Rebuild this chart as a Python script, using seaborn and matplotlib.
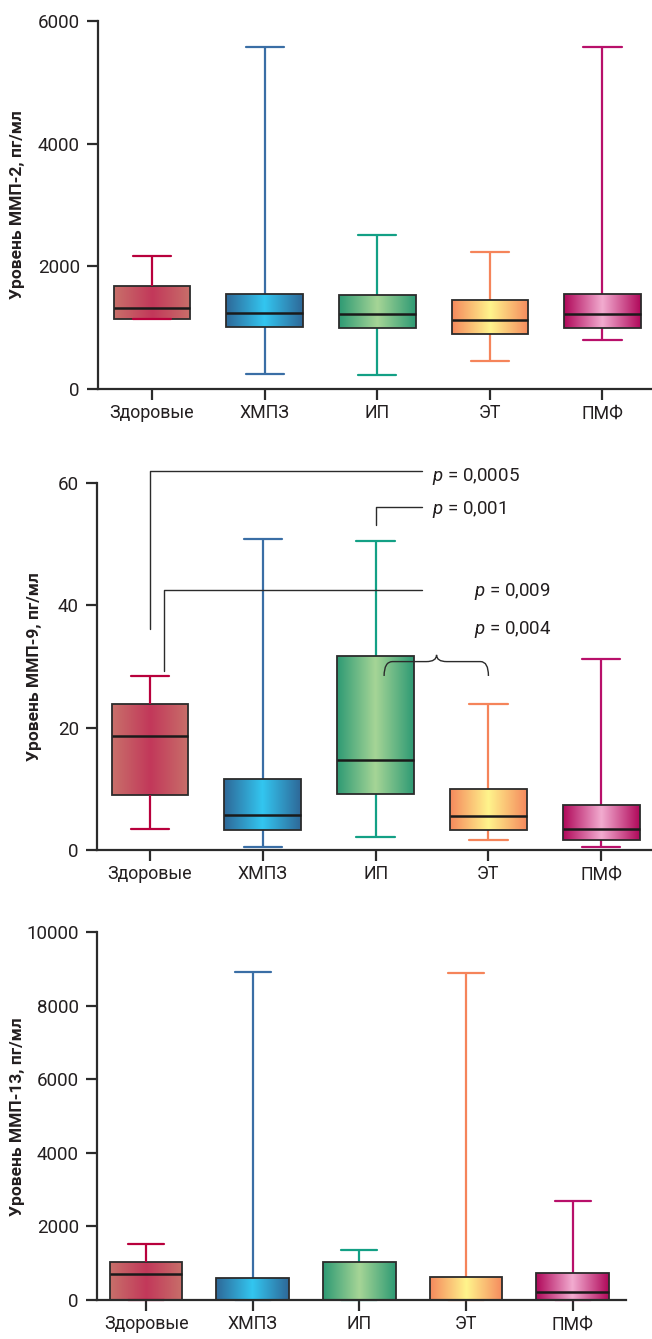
import numpy as np
import pandas as pd
import seaborn as sns
import matplotlib.pyplot as plt
from matplotlib.colors import LinearSegmentedColormap
from matplotlib.path import Path
from matplotlib.patches import PathPatch

sns.set_theme(style='ticks')
plt.rcParams['font.family'] = ['Roboto', 'DejaVu Sans']
plt.rcParams['mathtext.fontset'] = 'custom'
plt.rcParams['mathtext.it'] = 'Roboto:italic'
plt.rcParams['mathtext.rm'] = 'Roboto'

# группы
groups = ['Здоровые', 'ХМПЗ', 'ИП', 'ЭТ', 'ПМФ']

# ММП-2: минимум, Q1, медиана, Q3, максимум
mmp2_lo = [1145, 245, 228, 457, 799]
mmp2_q1 = [1145, 1011, 995, 897, 995]
mmp2_med = [1321, 1239, 1223, 1125, 1223]
mmp2_q3 = [1679, 1549, 1533, 1451, 1549]
mmp2_hi = [2168, 5576, 2511, 2234, 5576]

# ММП-9
mmp9_lo = [3.5, 0.55, 2.2, 1.6, 0.55]
mmp9_q1 = [9.05, 3.2, 9.1, 3.2, 1.6]
mmp9_med = [18.7, 5.7, 14.7, 5.6, 3.5]
mmp9_q3 = [23.8, 11.6, 31.7, 10.0, 7.4]
mmp9_hi = [28.4, 50.8, 50.5, 23.8, 31.2]

# ММП-13
mmp13_lo = [0, 0, 0, 0, 0]
mmp13_q1 = [0, 0, 0, 0, 0]
mmp13_med = [707, 0, 0, 0, 227]
mmp13_q3 = [1042, 598, 1042, 625, 743]
mmp13_hi = [1515, 8912, 1360, 8893, 2693]

# цвета: край и центр градиента, цвет усов
edge_colors = ['#c8706a', '#2e6898', '#2e9a74', '#f5895d', '#b0085a']
center_colors = ['#c2385a', '#33c6f0', '#a6d596', '#fff48c', '#f2acd0']
whisker_colors = ['#b8003c', '#3a6ea5', '#13a085', '#f5845a', '#b8106a']

ylabels = ['Уровень ММП-2, пг/мл', 'Уровень ММП-9, пг/мл', 'Уровень ММП-13, пг/мл']
yticks_list = [[0, 2000, 4000, 6000], [0, 20, 40, 60], [0, 2000, 4000, 6000, 8000, 10000]]

panels = [
    (mmp2_lo, mmp2_q1, mmp2_med, mmp2_q3, mmp2_hi),
    (mmp9_lo, mmp9_q1, mmp9_med, mmp9_q3, mmp9_hi),
    (mmp13_lo, mmp13_q1, mmp13_med, mmp13_q3, mmp13_hi),
]

# положение осей на рисунке (в долях)
positions = [
    [0.1503, 0.7095, 0.8497, 0.2748],
    [0.1488, 0.3652, 0.8512, 0.2741],
    [0.1488, 0.0291, 0.8113, 0.2746],
]
xlims = [(-0.48, 4.44), (-0.47, 4.45), (-0.46, 4.50)]
label_x = [-0.132, -0.099, -0.136]

dark = '#2b2b2b'

fig = plt.figure(figsize=(6.52, 13.39), dpi=100)

for i, stats in enumerate(panels):
    ax = fig.add_axes(positions[i])
    rows = []
    for g, vals in zip(groups, zip(*stats)):
        for v in vals:
            rows.append((g, v))
    df = pd.DataFrame(rows, columns=['group', 'value'])

    sns.boxplot(data=df, x='group', y='value', order=groups, ax=ax,
                whis=(0, 100), width=0.68, color='white', linewidth=1.6,
                showfliers=False)

    cont = ax.containers[0]
    for j, box in enumerate(cont.boxes):
        verts = box.get_path().vertices
        x0, x1 = verts[:, 0].min(), verts[:, 0].max()
        y0, y1 = verts[:, 1].min(), verts[:, 1].max()
        cmap = LinearSegmentedColormap.from_list(
            'g', [edge_colors[j], center_colors[j], edge_colors[j]])
        grad = np.linspace(0, 1, 256).reshape(1, -1)
        im = ax.imshow(grad, extent=[x0, x1, y0, y1], aspect='auto',
                       cmap=cmap, zorder=2.0, interpolation='bilinear')
        im.set_clip_path(box)
        box.set_facecolor('none')
        box.set_edgecolor(dark)
        box.set_linewidth(1.3)
        box.set_zorder(2.1)
    for j in range(len(groups)):
        wz = 2.2 if j == 0 else 1.5
        for ln in cont.whiskers[2 * j:2 * j + 2] + cont.caps[2 * j:2 * j + 2]:
            ln.set_color(whisker_colors[j])
            ln.set_linewidth(1.6)
            ln.set_zorder(wz)
            ln.set_clip_on(False)
        med = cont.medians[j]
        med.set_color('#1a1a1a')
        med.set_linewidth(1.8)
        med.set_zorder(2.3)

    ax.set_xlim(*xlims[i])
    ax.set_ylim(0, yticks_list[i][-1])
    ax.set_yticks(yticks_list[i])
    ax.set_xlabel('')
    ax.set_ylabel(ylabels[i], fontsize=12.5, fontweight='bold', color='#231f20')
    ax.yaxis.set_label_coords(label_x[i], 0.5)
    sns.despine(ax=ax)
    for s in ['left', 'bottom']:
        ax.spines[s].set_color(dark)
        ax.spines[s].set_linewidth(1.6)
    ax.tick_params(axis='both', direction='out', length=8, width=1.6,
                   color=dark, labelcolor='#231f20')
    ax.tick_params(axis='y', pad=5, labelsize=13.5)
    ax.tick_params(axis='x', pad=3, labelsize=12.8)

    if i == 1:
        lc = dict(color=dark, lw=1.0, clip_on=False, zorder=3)
        # скобки сравнения
        ax.plot([0.0, 0.0, 2.41], [36.1, 62.0, 62.0], **lc)
        ax.plot([2.0, 2.0, 2.41], [53.1, 56.0, 56.0], **lc)
        ax.plot([0.126, 0.126, 2.41], [29.3, 42.5, 42.5], **lc)
        # фигурная скобка
        yb, yt, yp = 28.45, 30.8, 31.9
        verts = [(2.075, yb), (2.075, yt), (2.15, yt), (2.45, yt),
                 (2.54, yt), (2.54, yp), (2.54, yt), (2.63, yt),
                 (2.93, yt), (3.0, yt), (3.0, yb)]
        codes = [Path.MOVETO, Path.CURVE3, Path.CURVE3, Path.LINETO,
                 Path.CURVE3, Path.CURVE3, Path.CURVE3, Path.CURVE3,
                 Path.LINETO, Path.CURVE3, Path.CURVE3]
        ax.add_patch(PathPatch(Path(verts, codes), fill=False, ec=dark,
                               lw=1.0, zorder=3, clip_on=False))
        tk = dict(fontsize=13.5, color='#231f20', va='center', ha='left',
                  clip_on=False)
        ax.text(2.50, 61.1, r'$p$ = 0,0005', **tk)
        ax.text(2.50, 55.6, r'$p$ = 0,001', **tk)
        ax.text(2.87, 42.3, r'$p$ = 0,009', **tk)
        ax.text(2.87, 36.0, r'$p$ = 0,004', **tk)

fig.savefig('out.png', dpi=100)
